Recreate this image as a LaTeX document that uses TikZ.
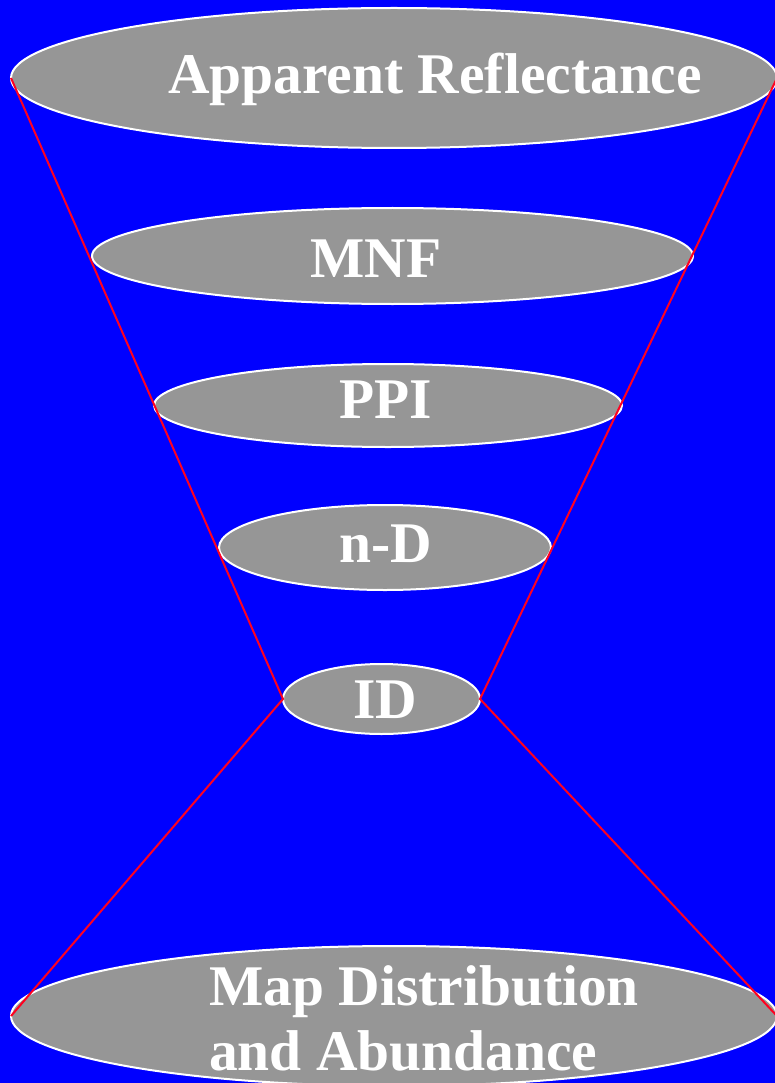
\documentclass[tikz,border=0pt]{standalone}
\usepackage{fontspec}
\setmainfont{Liberation Serif}
\usetikzlibrary{shapes.geometric}
\definecolor{bgblue}{RGB}{0,0,255}
\definecolor{ovalgrey}{RGB}{150,150,150}
\definecolor{linered}{RGB}{255,0,32}
\begin{document}
\begin{tikzpicture}[x=1pt,y=-1pt,
  oval/.style={ellipse, draw=white, line width=2pt, fill=ovalgrey, inner sep=0pt, outer sep=0pt},
  lbl/.style={text=white, font=\fontsize{57.5}{66}\selectfont\bfseries, inner sep=0pt, anchor=base west},
  funnel/.style={draw=linered, line width=2pt}]
\fill[bgblue] (0,0) rectangle (775,1083);
\useasboundingbox (0,0) rectangle (775,1083);
\node[oval, minimum width=766pt, minimum height=140pt] (e1) at (394,78) {};
\node[oval, minimum width=601pt, minimum height=96pt] (e2) at (392.5,256) {};
\node[oval, minimum width=468pt, minimum height=83pt] (e3) at (388,405.5) {};
\node[oval, minimum width=332pt, minimum height=85pt] (e4) at (385,547.5) {};
\node[oval, minimum width=197pt, minimum height=70pt] (e5) at (381.5,699) {};
\node[oval, minimum width=766pt, minimum height=140pt] (e6) at (394,1016) {};
\draw[funnel] (e1.west) -- (e5.west) -- (e6.west);
\draw[funnel] (e1.east) -- (e5.east) -- (e6.east);
\node[lbl] (t1) at (168,94) {Apparent Reflectance};
\node[lbl] (t2) at (310,277) {MNF};
\node[lbl] (t3) at (339,418) {PPI};
\node[lbl] (t4) at (339,562) {n-D};
\node[lbl] (t5) at (353,718) {ID};
\node[lbl] (t6) at (209,1005) {Map Distribution};
\node[lbl] (t7) at (209,1070) {and Abundance};
\end{tikzpicture}
\end{document}
